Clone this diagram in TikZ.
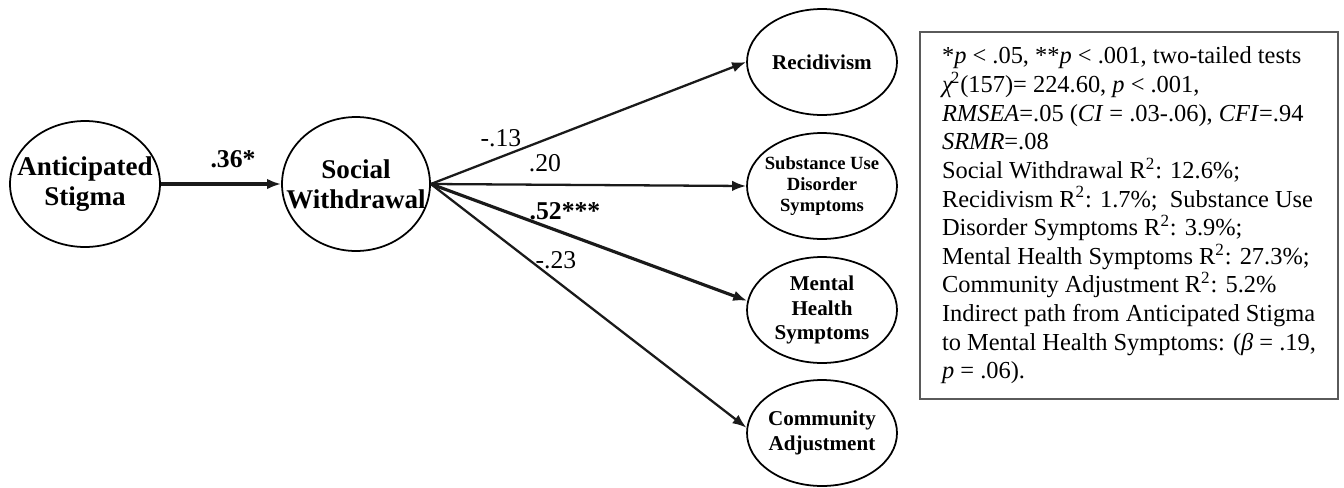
\documentclass[tikz,border=0pt]{standalone}
\usepackage{fontspec}
\setmainfont{Liberation Serif}
\usetikzlibrary{arrows.meta,shapes.geometric}
\definecolor{notaGris}{HTML}{5A5A5A}
\definecolor{rutaNegro}{HTML}{1A1A1A}
\tikzset{
  latent/.style={ellipse, draw, line width=1pt, minimum width=3cm,
    minimum height=2.52cm, inner xsep=-40pt, inner ysep=-20pt, align=center,
    font=\fontsize{15.4pt}{17pt}\selectfont\bfseries},
  outcome/.style={ellipse, draw, line width=1pt, minimum width=3cm,
    minimum height=2.12cm, inner xsep=-40pt, inner ysep=-20pt, align=center,
    font=\fontsize{12pt}{14.2pt}\selectfont\bfseries},
  coef/.style={inner sep=0pt, font=\fontsize{14.6pt}{16pt}\selectfont},
  pathArrow/.style={-{Latex[length=8pt,width=6pt]}, line width=1.3pt, rutaNegro},
  pathStrong/.style={pathArrow, line width=1.8pt},
  notes/.style={rectangle, draw=notaGris, line width=0.9pt,
    minimum width=8.36cm, minimum height=7.34cm, align=left,
    font=\fontsize{13.9pt}{16.3pt}\selectfont},
}
\begin{document}
\begin{tikzpicture}[x=0.02cm, y=-0.02cm]
    \useasboundingbox (0,0) rectangle (1344,487);
    % model
    \node[latent] (as) at (85,184) {Anticipated\\Stigma};
    \node[latent, minimum width=2.96cm, minimum height=2.68cm] (sw) at (356,184) {Social\\Withdrawal};
    \node[outcome] (rec) at (822,62) {Recidivism};
    \node[outcome, font=\fontsize{10.6pt}{12.2pt}\selectfont\bfseries] (sub) at (822,186) {Substance Use\\Disorder\\Symptoms};
    \node[outcome] (mh) at (822,310) {Mental\\Health\\Symptoms};
    \node[outcome] (ca) at (822,433) {Community\\Adjustment};
    \draw[pathArrow, line width=1.8pt] (as.east) -- (sw.west);
    \foreach \n/\a in {rec/west,sub/west,ca/176}{\draw[pathArrow] (sw.east) -- (\n.\a);}
    \draw[pathStrong] (sw.east) -- (mh.173);
    % coefficients
    \node[coef, font=\fontsize{14.6pt}{16pt}\selectfont\bfseries] (bAS) at (233,159) {.36*};
    \node[coef] (bRec) at (501,138) {-.13};
    \node[coef] (bSub) at (545,163) {.20};
    \node[coef, font=\fontsize{14.6pt}{16pt}\selectfont\bfseries] (bMH) at (565,211) {.52***};
    \node[coef] (bCA) at (556,260) {-.23};
    % fit statistics
    \node[notes] (fit) at (1129,215.5) {%
      *\textit{p} < .05, **\textit{p} < .001, two-tailed tests\\
      \textit{χ}\kern-0.1em\textsuperscript{2}(157)= 224.60, \textit{p} < .001,\\
      \textit{RMSEA}=.05 (\textit{CI} = .03-.06), \textit{CFI}=.94\\
      \textit{SRMR}=.08\\
      Social Withdrawal R\textsuperscript{2}: 12.6\%;\\
      Recidivism R\textsuperscript{2}: 1.7\%;\ \ Substance Use\\
      Disorder Symptoms R\textsuperscript{2}: 3.9\%;\\
      Mental Health Symptoms R\textsuperscript{2}: 27.3\%;\\
      Community Adjustment R\textsuperscript{2}: 5.2\%\\
      Indirect path from Anticipated Stigma\\
      to Mental Health Symptoms: (\textit{β} = .19,\\
      \textit{p} = .06).};
  \end{tikzpicture}
\end{document}
